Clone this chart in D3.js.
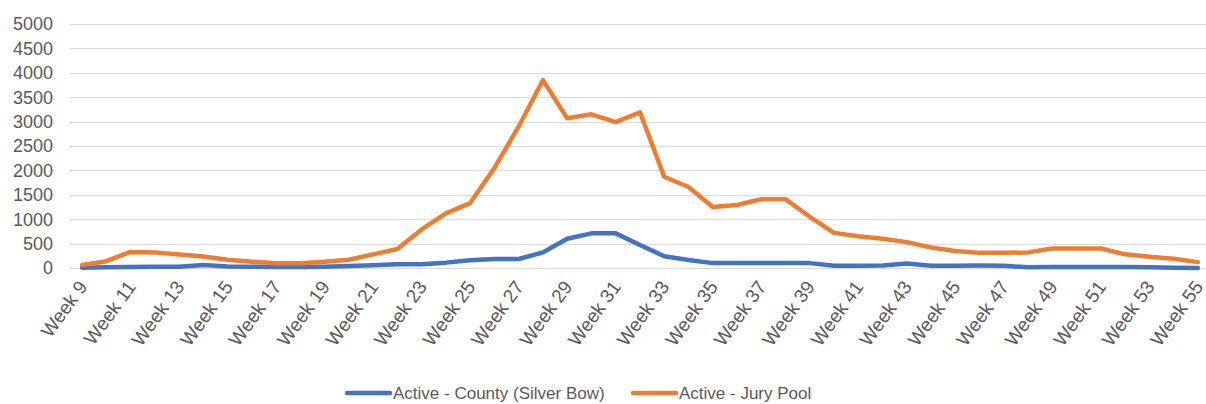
<!DOCTYPE html>
<html>
<head>
<meta charset="utf-8">
<script src="https://cdn.jsdelivr.net/npm/d3@7"></script>
<style>
    body { margin: 0; background: #fff; }
    text { font-family: "Liberation Sans", Arial, sans-serif; fill: #595959; }
</style>
</head>
<body>
<div id="chart-area"></div>
<script>
// week numbers on the x axis
var weeks = d3.range(9, 56);

// Active - County (Silver Bow)
var county = [5, 15, 20, 25, 25, 60, 30, 25, 20, 20, 25, 40, 55, 75, 75, 110,
    160, 185, 185, 320, 600, 710, 710, 470, 240, 165, 100, 100, 100, 100, 100,
    45, 45, 50, 90, 45, 45, 50, 45, 15, 20, 20, 20, 20, 15, 5, 0];

// Active - Jury Pool
var jury = [60, 140, 330, 320, 275, 235, 170, 130, 95, 95, 130, 170, 280, 390,
    790, 1120, 1330, 2050, 2900, 3850, 3070, 3150, 2990, 3190, 1870, 1660, 1250,
    1290, 1410, 1410, 1050, 720, 650, 600, 530, 420, 350, 310, 310, 320, 400,
    400, 400, 280, 230, 190, 120];

var yTicks = d3.range(0, 5001, 500);

var seriesNames = ["Active - County (Silver Bow)", "Active - Jury Pool"];
var colors = ["#4472C4", "#ED7D31"];

var width = 1206;
var height = 404;

var svg = d3.select("#chart-area")
    .append("svg")
    .attr("width", width)
    .attr("height", height);

var categories = weeks.map(function(w) { return "Week " + w; });

var x = d3.scalePoint()
    .domain(categories)
    .range([70, 1210])
    .padding(0.5);

var y = d3.scaleLinear()
    .domain([0, 5000])
    .range([268, 24]);

// gridlines
svg.append("g")
    .selectAll("line")
    .data(yTicks)
    .enter()
    .append("line")
    .attr("x1", 70)
    .attr("x2", 1206)
    .attr("y1", function(d) { return Math.round(y(d)) + 0.5; })
    .attr("y2", function(d) { return Math.round(y(d)) + 0.5; })
    .attr("stroke", "#d9d9d9")
    .attr("stroke-width", 1);

// y labels
svg.append("g")
    .selectAll("text")
    .data(yTicks)
    .enter()
    .append("text")
    .attr("x", 53)
    .attr("y", function(d) { return y(d); })
    .attr("dy", "0.35em")
    .attr("text-anchor", "end")
    .attr("font-size", "18px")
    .text(function(d) { return d; });

// x labels, every other week
svg.append("g")
    .selectAll("text")
    .data(categories.filter(function(d, i) { return i % 2 === 0; }))
    .enter()
    .append("text")
    .attr("text-anchor", "end")
    .attr("font-size", "19px")
    .attr("transform", function(d) {
        return "translate(" + (x(d) + 6) + ",287) rotate(-54)";
    })
    .text(function(d) { return d; });

var line = d3.line()
    .x(function(d, i) { return x(categories[i]); })
    .y(function(d) { return y(d); });

[county, jury].forEach(function(data, k) {
    svg.append("path")
        .datum(data)
        .attr("fill", "none")
        .attr("stroke", colors[k])
        .attr("stroke-width", 4.5)
        .attr("stroke-linejoin", "round")
        .attr("stroke-linecap", "round")
        .attr("d", line);
});

// legend
var legendX = [347, 633];
var legend = svg.append("g")
    .selectAll("g")
    .data(seriesNames)
    .enter()
    .append("g")
    .attr("transform", function(d, i) { return "translate(" + legendX[i] + ",393)"; });

legend.append("line")
    .attr("x1", 0)
    .attr("x2", 43)
    .attr("stroke", function(d, i) { return colors[i]; })
    .attr("stroke-width", 4.5)
    .attr("stroke-linecap", "round");

legend.append("text")
    .attr("x", 46)
    .attr("dy", "0.35em")
    .attr("font-size", "17px")
    .text(function(d) { return d; });
</script>
</body>
</html>
